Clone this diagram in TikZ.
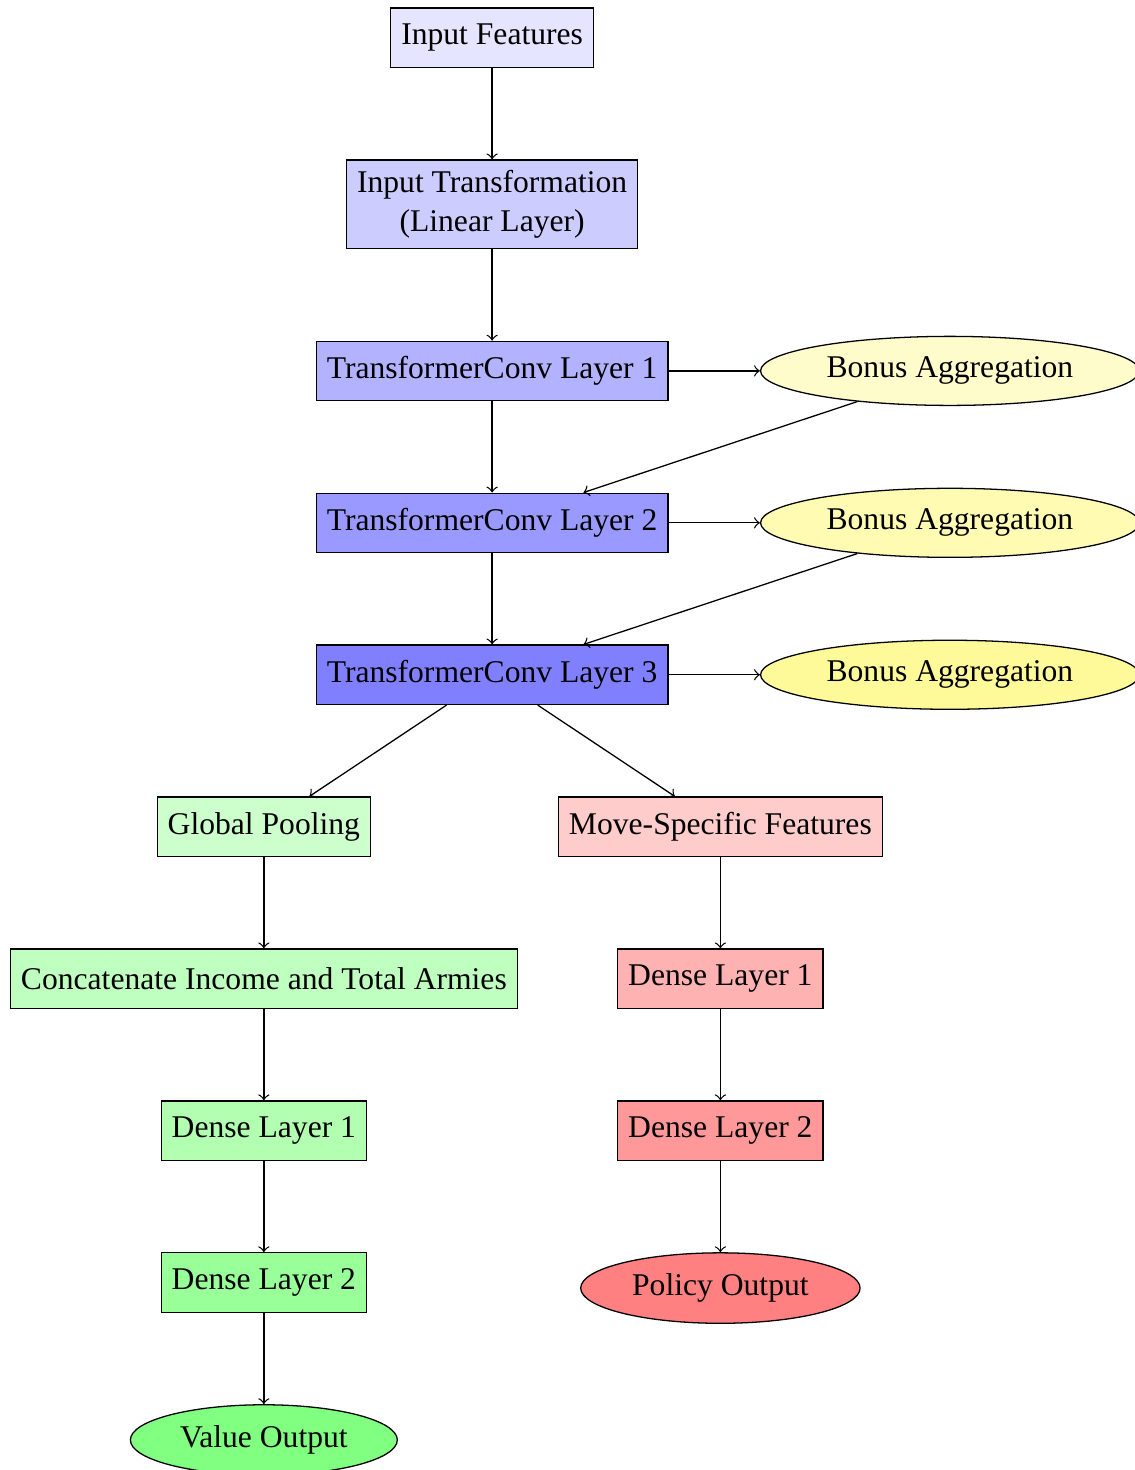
\documentclass[tikz,border=0pt]{standalone}
\usepackage{fontspec}
\setmainfont[Scale=0.985]{Liberation Serif}
\usetikzlibrary{positioning,shapes.geometric}

\begin{document}
\begin{tikzpicture}[
  node distance=1cm,
  layerbox/.style={rectangle, draw, minimum height=0.65cm, align=center},
  aggnode/.style={ellipse, draw},
  outnode/.style={ellipse, draw},
  flow/.style={->}
]
  \useasboundingbox (-5.39,0.413) rectangle ++(12.43,-16.10);

  % Shared trunk
  \node[layerbox, fill=blue!10] (in) at (0,0) {Input Features};
  \node[layerbox, fill=blue!20, below=of in] (trans) {Input Transformation\\(Linear Layer)};
  \node[layerbox, fill=blue!30, below=of trans] (tc1) {TransformerConv Layer 1};
  \node[layerbox, fill=blue!40, below=of tc1] (tc2) {TransformerConv Layer 2};
  \node[layerbox, fill=blue!50, below=of tc2] (tc3) {TransformerConv Layer 3};

  % Bonus aggregation
  \node[aggnode, fill=yellow!20, right=of tc1] (bon1) {Bonus Aggregation};
  \node[aggnode, fill=yellow!30, right=of tc2] (bon2) {Bonus Aggregation};
  \node[aggnode, fill=yellow!40, right=of tc3] (bon3) {Bonus Aggregation};

  % Value head
  \node[layerbox, fill=green!20, below=of tc3, xshift=-2.5cm] (pool) {Global Pooling};
  \node[layerbox, fill=green!25, below=of pool] (concat) {Concatenate Income and Total Armies};
  \node[layerbox, fill=green!30, below=of concat] (vd1) {Dense Layer 1};
  \node[layerbox, fill=green!40, below=of vd1] (vd2) {Dense Layer 2};
  \node[outnode, fill=green!50, below=of vd2] (value) {Value Output};

  % Policy head
  \node[layerbox, fill=red!20, below=of tc3, xshift=2.5cm] (move) {Move-Specific Features};
  \node[layerbox, fill=red!30, below=of move] (pd1) {Dense Layer 1};
  \node[layerbox, fill=red!40, below=of pd1] (pd2) {Dense Layer 2};
  \node[outnode, fill=red!50, below=of pd2] (policy) {Policy Output};

  % Arrows
  \draw[flow] (in) -- (trans);
  \draw[flow] (trans) -- (tc1);
  \draw[flow] (tc1) -- (tc2);
  \draw[flow] (tc2) -- (tc3);
  \draw[flow] (tc1) -- (bon1);
  \draw[flow] (tc2) -- (bon2);
  \draw[flow] (tc3) -- (bon3);
  \draw[flow] (bon1) -- (tc2);
  \draw[flow] (bon2) -- (tc3);
  \draw[flow] (tc3) -- (pool);
  \draw[flow] (tc3) -- (move);
  \draw[flow] (pool) -- (concat);
  \draw[flow] (concat) -- (vd1);
  \draw[flow] (vd1) -- (vd2);
  \draw[flow] (vd2) -- (value);
  \draw[flow] (move) -- (pd1);
  \draw[flow] (pd1) -- (pd2);
  \draw[flow] (pd2) -- (policy);
\end{tikzpicture}
\end{document}
